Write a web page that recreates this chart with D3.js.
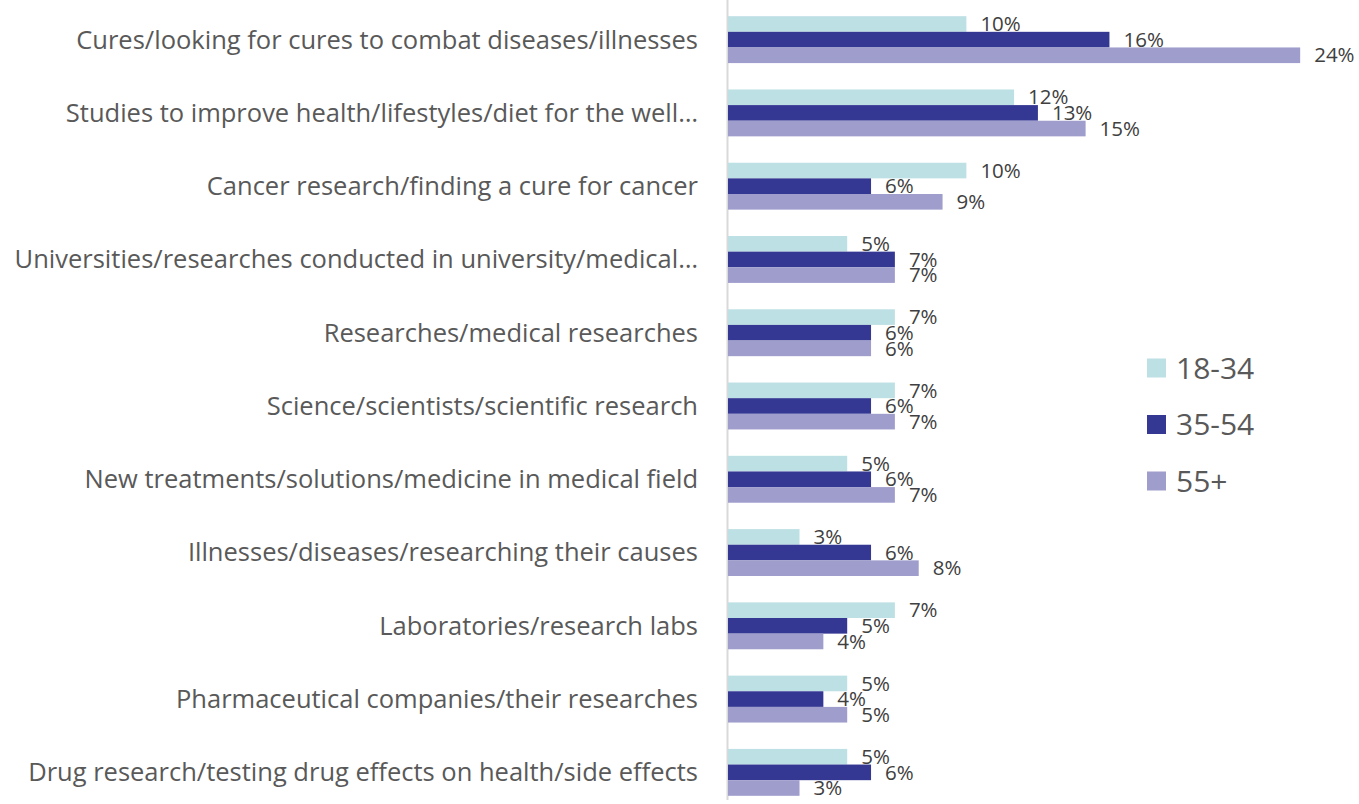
<!DOCTYPE html>
<html>
<head>
<meta charset="utf-8">
<script src="https://cdn.jsdelivr.net/npm/d3@7"></script>
<style>
  body { margin: 0; background: #fff; }
  svg { display: block; font-family: "Open Sans", "Noto Sans", sans-serif; }
</style>
</head>
<body>
<svg></svg>
<script>
// Data ======================================================================

const categories = [
  "Cures/looking for cures to combat diseases/illnesses",
  "Studies to improve health/lifestyles/diet for the well…",
  "Cancer research/finding a cure for cancer",
  "Universities/researches conducted in university/medical…",
  "Researches/medical researches",
  "Science/scientists/scientific research",
  "New treatments/solutions/medicine in medical field",
  "Illnesses/diseases/researching their causes",
  "Laboratories/research labs",
  "Pharmaceutical companies/their researches",
  "Drug research/testing drug effects on health/side effects"
];
const seriesNames = ["18-34", "35-54", "55+"];
const age18to34 = [10, 12, 10, 5, 7, 7, 5, 3, 7, 5, 5];
const age35to54 = [16, 13, 6, 7, 6, 6, 6, 6, 5, 4, 6];
const age55plus = [24, 15, 9, 7, 6, 7, 7, 8, 4, 5, 3];
const colors = ["#bde0e4", "#343893", "#9f9dcc"];

const seriesValues = [age18to34, age35to54, age55plus];

// Chart =====================================================================

const width = 1359, height = 804;
const svg = d3.select("svg").attr("width", width).attr("height", height);

const x = d3.scaleLinear().domain([0, 25]).range([728, 1324]);
const y = d3.scaleBand().domain(categories).range([3, 809]).paddingInner(0.36).paddingOuter(0.18);
const ySub = d3.scaleBand().domain(seriesNames).range([0, y.bandwidth()]);

// axis line
svg.append("line")
  .attr("x1", 727.5).attr("x2", 727.5)
  .attr("y1", 0).attr("y2", 800)
  .attr("stroke", "#d9d9d9").attr("stroke-width", 2);

const groups = svg.selectAll("g.cat")
  .data(categories)
  .enter()
  .append("g")
  .attr("class", "cat")
  .attr("transform", d => `translate(0,${y(d)})`);

seriesNames.forEach((s, si) => {
  groups.append("rect")
    .attr("x", x(0))
    .attr("y", ySub(s))
    .attr("width", (d, i) => x(seriesValues[si][i]) - x(0))
    .attr("height", ySub.bandwidth())
    .attr("fill", colors[si]);
});

// value labels (they overlap in the original too)
seriesNames.forEach((s, si) => {
  groups.append("text")
    .attr("x", (d, i) => x(seriesValues[si][i]) + 14)
    .attr("y", ySub(s) + ySub.bandwidth() / 2)
    .attr("dy", "0.35em")
    .attr("font-size", 20.5)
    .attr("fill", "#404040")
    .text((d, i) => seriesValues[si][i] + "%");
});

// category labels
groups.append("text")
  .attr("x", 698)
  .attr("y", y.bandwidth() / 2)
  .attr("dy", "0.35em")
  .attr("text-anchor", "end")
  .attr("font-size", 25.5)
  .attr("fill", "#595959")
  .text(d => d);

// legend
const legend = svg.selectAll("g.legend")
  .data(seriesNames)
  .enter()
  .append("g")
  .attr("class", "legend")
  .attr("transform", (d, i) => `translate(1147,${368 + i * 56.5})`);

legend.append("rect")
  .attr("x", 0).attr("y", -9.5)
  .attr("width", 19).attr("height", 19)
  .attr("fill", (d, i) => colors[i]);

legend.append("text")
  .attr("x", 29).attr("y", 0)
  .attr("dy", "0.35em")
  .attr("font-size", 30)
  .attr("fill", "#595959")
  .text(d => d);
</script>
</body>
</html>
